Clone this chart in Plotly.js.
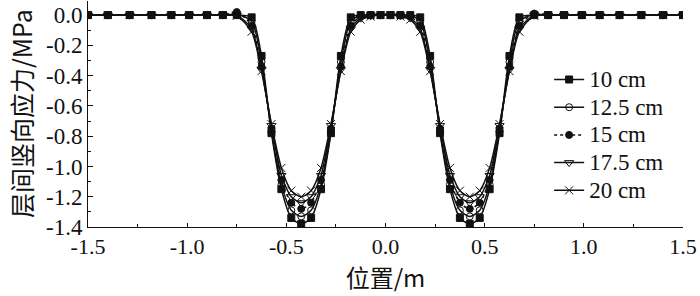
<!DOCTYPE html>
<html>
<head>
<meta charset="utf-8">
<script src="https://cdn.plot.ly/plotly-3.0.1.min.js"></script>
<style>html,body{margin:0;padding:0;background:#fff}#chart{width:700px;height:296px}</style>
</head>
<body>
<div id="chart"></div>
<script>
const xPos = [-1.5,-1.4,-1.29,-1.18,-1.08,-0.99,-0.9,-0.82,-0.75,-0.675,-0.625,-0.575,-0.525,-0.475,-0.425,-0.375,-0.325,-0.275,-0.225,-0.175,-0.125,-0.075,-0.025,
              0.025,0.075,0.125,0.175,0.225,0.275,0.325,0.375,0.425,0.475,0.525,0.575,0.625,0.675,0.75,0.82,0.9,0.99,1.08,1.18,1.29,1.4,1.5];

const s10  = [0,0,0,0,0,0,0,0,0,-0.015,-0.27,-0.78,-1.15,-1.34,-1.38,-1.34,-1.15,-0.78,-0.27,-0.015,0,0,0,
              0,0,0,-0.015,-0.27,-0.78,-1.15,-1.34,-1.38,-1.34,-1.15,-0.78,-0.27,-0.015,0,0,0,0,0,0,0,0,0];
const s125 = [0,0,0,0,0,0,0,0,0.005,-0.04,-0.31,-0.77,-1.12,-1.29,-1.33,-1.29,-1.12,-0.77,-0.31,-0.04,-0.005,0,0,
              0,0,-0.005,-0.04,-0.31,-0.77,-1.12,-1.29,-1.33,-1.29,-1.12,-0.77,-0.31,-0.04,0.005,0,0,0,0,0,0,0,0];
const s15  = [0,0,0,0,0,0,0,0,0.02,-0.07,-0.34,-0.75,-1.09,-1.24,-1.28,-1.24,-1.09,-0.75,-0.34,-0.07,-0.01,0,0,
              0,0,-0.01,-0.07,-0.34,-0.75,-1.09,-1.24,-1.28,-1.24,-1.09,-0.75,-0.34,-0.07,0.01,0,0,0,0,0,0,0,0];
const s175 = [0,0,0,0,0,0,0,0,0,-0.09,-0.36,-0.73,-1.06,-1.2,-1.24,-1.2,-1.06,-0.73,-0.36,-0.09,-0.02,-0.005,0,
              0,-0.005,-0.02,-0.09,-0.36,-0.73,-1.06,-1.2,-1.24,-1.2,-1.06,-0.73,-0.36,-0.09,0,0,0,0,0,0,0,0,0];
const s20  = [0,0,0,0,0,0,0,0,-0.005,-0.11,-0.37,-0.72,-1.01,-1.16,-1.2,-1.16,-1.01,-0.72,-0.37,-0.11,-0.03,-0.01,0,
              0,-0.01,-0.03,-0.11,-0.37,-0.72,-1.01,-1.16,-1.2,-1.16,-1.01,-0.72,-0.37,-0.11,-0.005,0,0,0,0,0,0,0,0];

const names = ['10 cm','12.5 cm','15 cm','17.5 cm','20 cm'];
const xTickVals = [-1.5,-1,-0.5,0,0.5,1,1.5];
const xTickText = ['-1.5','-1.0','-0.5','0.0','0.5','1.0','1.5'];
const yTickVals = [0,-0.2,-0.4,-0.6,-0.8,-1,-1.2,-1.4];
const yTickText = ['0.0','-0.2','-0.4','-0.6','-0.8','-1.0','-1.2','-1.4'];

const series = [s10,s125,s15,s175,s20];
const styles = [
  {sym:'square', dash:'solid', size:7},
  {sym:'circle-open', dash:'solid', size:7},
  {sym:'circle', dash:'3px,3px', size:7},
  {sym:'triangle-down-open', dash:'solid', size:8},
  {sym:'x-thin-open', dash:'solid', size:8}
];
const traces = series.map((s,i)=>({
  x: xPos, y: s, name: '<span style="font-size:23px">' + names[i] + '</span>', type:'scatter', mode:'lines+markers',
  line:{color:'#111', width:1.5, shape:'spline', smoothing:0.7, dash:styles[i].dash},
  marker:{symbol:styles[i].sym, size:styles[i].size, color:'#111', line:{color:'#111', width:1}}
}));

const serif = 'Liberation Serif';
const layout = {
  width:700, height:296,
  margin:{l:88, r:17, t:1, b:69},
  paper_bgcolor:'#fff', plot_bgcolor:'#fff',
  showlegend:true,
  legend:{x:0.775, y:0.736, xanchor:'left', yanchor:'top', font:{family:serif, size:19, color:'#111'},
          bgcolor:'rgba(0,0,0,0)', tracegroupgap:0, itemwidth:30},
  xaxis:{range:[-1.5,1.5], tickvals:xTickVals, ticktext:xTickText, ticks:'inside', ticklen:4,
         minor:{dtick:0.25, ticks:'inside', ticklen:3, tickcolor:'#111'},
         showline:true, linecolor:'#111', linewidth:1, tickcolor:'#111', mirror:false,
         showgrid:false, zeroline:false, tickfont:{family:serif, size:22, color:'#111'},
         title:{text:'位置/m', font:{family:'Noto Sans CJK SC', size:24, color:'#111'}, standoff:4}},
  yaxis:{range:[-1.4,0.093], tickvals:yTickVals, ticktext:yTickText, ticks:'inside', ticklen:5,
         minor:{dtick:0.1, ticks:'inside', ticklen:3, tickcolor:'#111'},
         showline:true, linecolor:'#111', linewidth:1, tickcolor:'#111',
         showgrid:false, zeroline:false, tickfont:{family:serif, size:23, color:'#111'},
         title:{text:''}},
  annotations:[{text:'层间竖向应力/MPa', textangle:-90, xref:'paper', yref:'paper',
                x:-88/595, xanchor:'left', y:0.5, yanchor:'middle', xshift:1, showarrow:false,
                font:{family:'Noto Sans CJK SC', size:25, color:'#111'}}]
};
Plotly.newPlot('chart', traces, layout, {staticPlot:true, displayModeBar:false});
</script>
</body>
</html>
